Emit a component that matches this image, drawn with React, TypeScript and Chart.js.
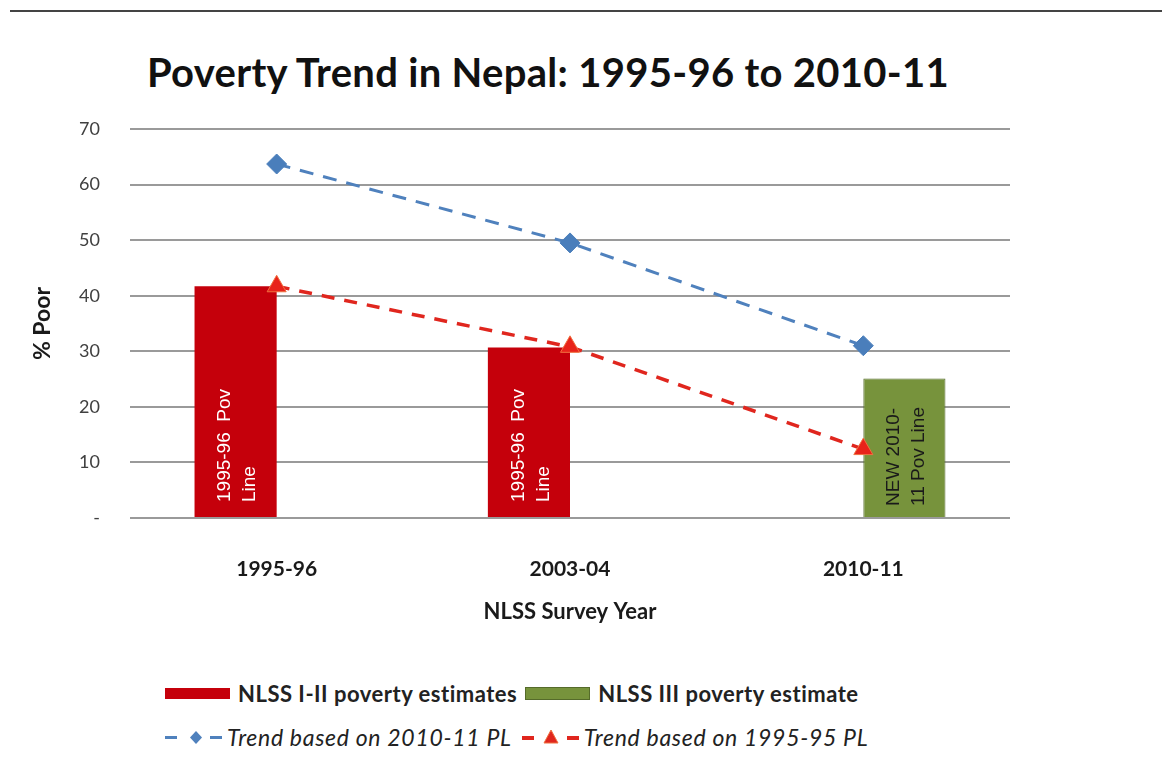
import React, { useEffect, useRef } from 'react';
import { Chart, registerables } from 'chart.js';

Chart.register(...registerables);

// ---- data ----
const categories = ['1995-96', '2003-04', '2010-11'];
const nlss12Estimates: (number | null)[] = [41.7, 30.7, null];
const nlss3Estimate: (number | null)[] = [null, null, 25.1];
const trend2010PL = [63.7, 49.5, 31.0];
const trend1995PL = [41.7, 30.8, 12.4];
const yTickValues = [0, 10, 20, 30, 40, 50, 60, 70];
const redBarText = ['1995-96  Pov', 'Line'];
const greenBarText = ['NEW 2010-', '11 Pov Line'];
const seriesNames = [
  'NLSS I-II poverty estimates',
  'NLSS III poverty estimate',
  'Trend based on 2010-11 PL',
  'Trend based on 1995-95 PL',
];
const chartTitle = 'Poverty Trend in Nepal: 1995-96 to 2010-11';
const yTitle = '% Poor';
const xTitle = 'NLSS Survey Year';

const RED = '#C5000B';
const GREEN = '#77933C';
const BLUE_LINE = '#4F81BD';
const RED_LINE = '#E0261E';

const barTextPlugin = {
  id: 'barText',
  afterDatasetsDraw(chart: any) {
    const ctx = chart.ctx;
    chart.data.datasets.forEach((ds: any, di: number) => {
      if (!ds.innerText) return;
      const meta = chart.getDatasetMeta(di);
      meta.data.forEach((bar: any, i: number) => {
        if (ds.data[i] == null) return;
        const { x, base } = bar.getProps(['x', 'base'], true);
        ctx.save();
        ctx.translate(x, base - ds.innerTextOffset);
        ctx.rotate(-Math.PI / 2);
        ctx.font = '19px "Liberation Sans", Arial, sans-serif';
        ctx.fillStyle = ds.innerTextColor;
        ctx.textAlign = 'left';
        ctx.textBaseline = 'middle';
        const lines: string[] = ds.innerText;
        const gap = 25;
        lines.forEach((ln, li) => {
          const off = (li - (lines.length - 1) / 2) * gap + 2;
          ctx.fillText(ln, 0, off);
        });
        ctx.restore();
      });
    });
  },
};

function LegendMarker({ color, kind }: { color: string; kind: 'diamond' | 'triangle' }) {
  return (
    <svg width={58} height={20} style={{ display: 'block' }}>
      <rect x={0} y={9} width={12} height={kind === 'triangle' ? 4 : 3} fill={color} />
      <rect x={45} y={9} width={12} height={kind === 'triangle' ? 4 : 3} fill={color} />
      {kind === 'diamond' ? (
        <polygon points="31,4 37,10.5 31,17 25,10.5" fill={color} />
      ) : (
        <polygon points="29,3 36,16 22,16" fill={color} stroke="#F07040" strokeWidth={1} />
      )}
    </svg>
  );
}

export default function App() {
  const canvasRef = useRef<HTMLCanvasElement | null>(null);

  useEffect(() => {
    if (!canvasRef.current) return;
    const chart = new Chart(canvasRef.current, {
      type: 'bar',
      data: {
        labels: categories,
        datasets: [
          {
            type: 'bar',
            label: seriesNames[0],
            data: nlss12Estimates,
            backgroundColor: RED,
            borderWidth: 0,
            order: 2,
            innerText: redBarText,
            innerTextColor: '#ffffff',
            innerTextOffset: 15,
          } as any,
          {
            type: 'bar',
            label: seriesNames[1],
            data: nlss3Estimate,
            backgroundColor: GREEN,
            borderColor: '#556B2A',
            borderWidth: 1,
            order: 2,
            innerText: greenBarText,
            innerTextColor: '#1a1a1a',
            innerTextOffset: 11,
          } as any,
          {
            type: 'line',
            label: seriesNames[2],
            data: trend2010PL,
            borderColor: BLUE_LINE,
            borderWidth: 3,
            borderDash: [14, 10],
            pointStyle: 'rectRot',
            pointRadius: 10,
            pointBackgroundColor: '#4A7EBB',
            pointBorderColor: '#4A7EBB',
            pointBorderWidth: 1,
            fill: false,
            order: 0,
          } as any,
          {
            type: 'line',
            label: seriesNames[3],
            data: trend1995PL,
            borderColor: RED_LINE,
            borderWidth: 3.5,
            borderDash: [13, 10],
            pointStyle: 'triangle',
            pointRadius: 11,
            pointBackgroundColor: '#E8231A',
            pointBorderColor: '#F07040',
            pointBorderWidth: 1,
            fill: false,
            order: 0,
          } as any,
        ],
      },
      options: {
        responsive: false,
        animation: false,
        devicePixelRatio: 1,
        layout: { padding: { left: 0, right: 86, top: 129, bottom: 0 } },
        datasets: {
          bar: { barPercentage: 1, categoryPercentage: 0.56 },
        },
        plugins: {
          legend: { display: false },
          tooltip: { enabled: false },
          title: { display: false },
        },
        scales: {
          x: {
            grid: { display: false },
            border: { display: false },
            ticks: {
              color: '#1a1a1a',
              font: { family: 'Lato', size: 21, weight: 'bold' },
              padding: 31,
            },
            title: {
              display: true,
              text: xTitle,
              color: '#1a1a1a',
              font: { family: 'Lato', size: 22, weight: 'bold' },
              padding: { top: 30, bottom: 4 },
            },
            afterFit: (s: any) => {
              s.height = 111;
            },
          },
          y: {
            min: 0,
            max: 70,
            afterBuildTicks: (s: any) => {
              s.ticks = yTickValues.map((v) => ({ value: v }));
            },
            grid: { color: '#9a9a9a', lineWidth: 2, drawTicks: false },
            border: { display: false },
            ticks: {
              color: '#404040',
              font: { family: 'Lato', size: 18 },
              padding: 30,
              callback: (v: any) => (Number(v) === 0 ? '-' : String(v)),
            },
            title: {
              display: true,
              text: yTitle,
              color: '#1a1a1a',
              font: { family: 'Lato', size: 23, weight: 'bold' },
              padding: { top: 29, bottom: 4 },
            },
            afterFit: (s: any) => {
              s.width = 130;
            },
          },
        },
      },
      plugins: [barTextPlugin],
    } as any);
    return () => chart.destroy();
  }, []);

  const legendText: React.CSSProperties = {
    fontFamily: 'Lato, sans-serif',
    fontSize: 22,
    letterSpacing: 0.5,
    color: '#222',
    whiteSpace: 'nowrap',
  };
  const italicText: React.CSSProperties = {
    ...legendText,
    fontStyle: 'italic',
    fontSize: 23,
    letterSpacing: 0.7,
    marginLeft: 4,
  };

  return (
    <div style={{ position: 'absolute', left: 0, top: 0, width: 1162, height: 763, background: '#fff' }}>
      <div style={{ position: 'absolute', left: 10, top: 10, width: 1152, height: 2, background: '#444' }} />
      <div
        style={{
          position: 'absolute',
          left: 0,
          top: 48,
          width: 1096,
          textAlign: 'center',
          fontFamily: 'Lato, sans-serif',
          fontWeight: 'bold',
          fontSize: 40,
          lineHeight: '48px',
          letterSpacing: 0.3,
          color: '#111',
          whiteSpace: 'nowrap',
        }}
      >
        {chartTitle}
      </div>
      <canvas ref={canvasRef} width={1096} height={629} style={{ position: 'absolute', left: 0, top: 0 }} />
      <div
        style={{
          position: 'absolute',
          left: 165,
          top: 679,
          display: 'flex',
          alignItems: 'center',
          height: 28,
        }}
      >
        <div style={{ width: 65, height: 11, background: RED, marginRight: 8 }} />
        <span style={{ ...legendText, fontWeight: 'bold' }}>{seriesNames[0]}</span>
        <div style={{ width: 63, height: 11, background: GREEN, border: '1px solid #556B2A', margin: '0 8px 0 8px' }} />
        <span style={{ ...legendText, fontWeight: 'bold' }}>{seriesNames[1]}</span>
      </div>
      <div
        style={{
          position: 'absolute',
          left: 165,
          top: 723,
          display: 'flex',
          alignItems: 'center',
          height: 28,
        }}
      >
        <LegendMarker color={BLUE_LINE} kind="diamond" />
        <span style={italicText}>{seriesNames[2]}</span>
        <div style={{ marginLeft: 10 }}>
          <LegendMarker color={RED_LINE} kind="triangle" />
        </div>
        <span style={italicText}>{seriesNames[3]}</span>
      </div>
    </div>
  );
}
